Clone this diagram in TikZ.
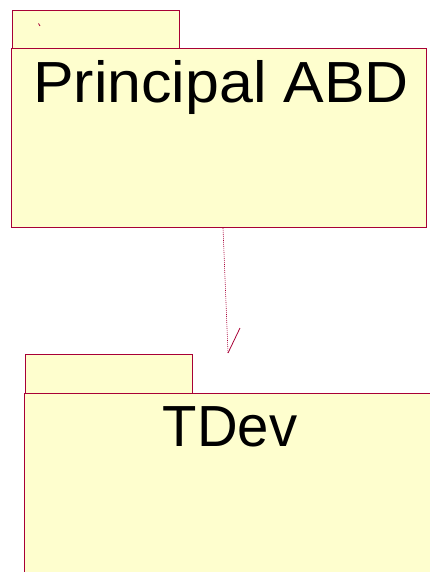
\documentclass[tikz,border=0pt]{standalone}
\usepackage{fontspec}
\setmainfont{Liberation Sans}
\usetikzlibrary{calc}
\usetikzlibrary{positioning}

\definecolor{pkgfill}{HTML}{FEFECE}
\definecolor{pkgline}{HTML}{A80036}

\tikzset{
  pkg/.style={draw=pkgline,fill=pkgfill,line width=1pt},
  pkgname/.style={font=\fontsize{58}{60}\selectfont,anchor=base,inner sep=0pt},
  dep/.style={draw=pkgline,line width=0.6pt,dash pattern=on 1pt off 1pt}
}

\begin{document}
\begin{tikzpicture}[x=1pt,y=-1pt]
\useasboundingbox (0,0) rectangle (430,572);
\clip (0,0) rectangle (430,572);

% package Principal ABD
\draw[pkg] (12,11) rectangle (179,49);
\draw[pkg] (11,49) rectangle (426,227);
\draw[pkgline,line width=0.8pt] (38.5,23.5) -- (40,26);
\node[pkgname,xscale=1.05] (abd) at (221,103) {Principal ABD};

% package TDev
\draw[pkg] (25,354) rectangle (192,393);
\draw[pkg] (24,393) rectangle (440,580);
\node[pkgname,xscale=0.97] (tdev) at (230,446) {TDev};

% dependency
\coordinate (dep start) at (223,228);
\coordinate (dep end) at (228,353);
\coordinate (tip) at (240,328);
\draw[dep] (dep start) -- (dep end);
\draw[pkgline,line width=0.8pt] (dep end) -- (tip);
\end{tikzpicture}
\end{document}
